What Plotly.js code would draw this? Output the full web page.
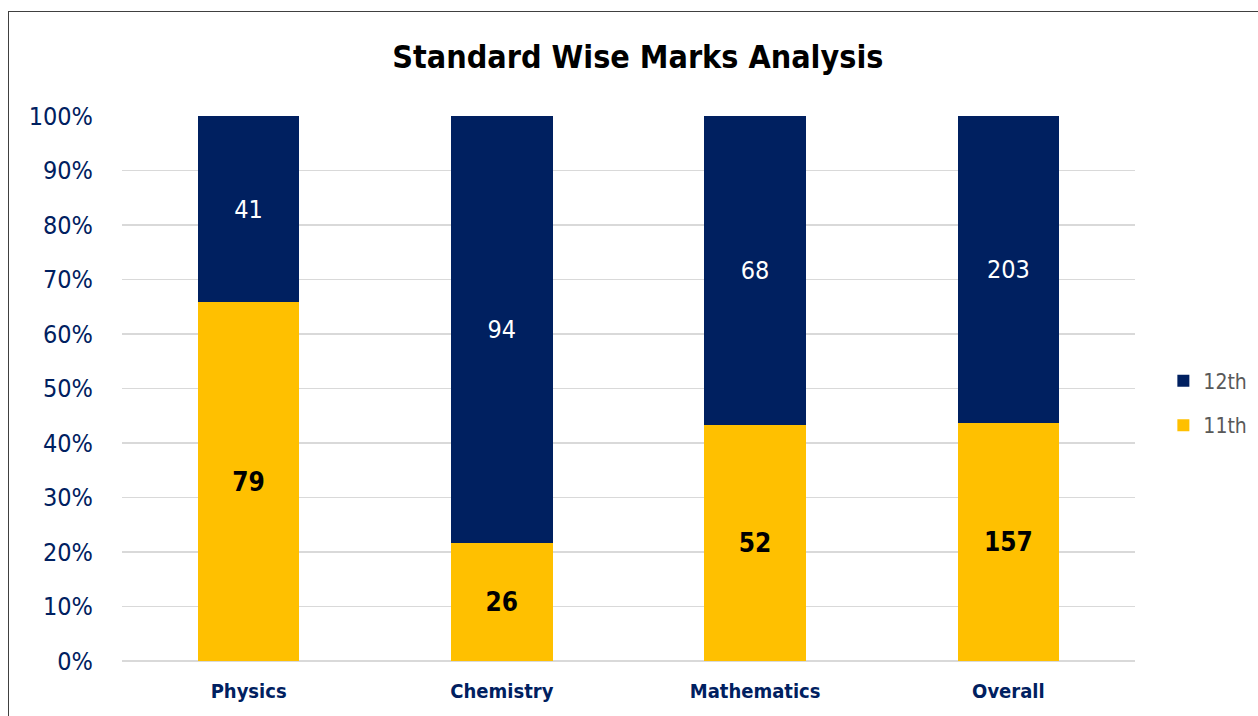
<!DOCTYPE html>
<html><head><meta charset="utf-8">
<script src="https://cdn.plot.ly/plotly-3.0.1.min.js"></script>
<style>
html,body{margin:0;padding:0;background:#fff;}
#frame{position:absolute;left:8px;top:11px;width:1300px;height:800px;border:1.5px solid #404040;box-sizing:border-box;pointer-events:none;z-index:10;}
#chart{position:absolute;left:0;top:0;width:1258px;height:716px;}
</style></head>
<body>
<div id="chart"></div>
<div id="frame"></div>
<script>
const categories = ["Physics", "Chemistry", "Mathematics", "Overall"];
const marks11 = [79, 26, 52, 157];
const marks12 = [41, 94, 68, 203];
const yTicks = [0,10,20,30,40,50,60,70,80,90,100];

const FONT = '"Liberation Sans Narrow","DejaVu Sans Condensed","Roboto",sans-serif';

const traces = [
  {
    type: 'bar', name: '11th', x: categories, y: marks11, legendgroup: 'g11', legendrank: 2,
    text: marks11.map(String), textposition: 'inside', insidetextanchor: 'middle',
    textfont: {family: FONT, size: 26, color: '#000000', weight: 'bold'},
    marker: {color: '#FFC000'}, hoverinfo: 'none'
  },
  {
    type: 'bar', name: '12th', x: categories, y: marks12, legendgroup: 'g12', legendrank: 1,
    text: marks12.map(String), textposition: 'inside', insidetextanchor: 'middle',
    textfont: {family: FONT, size: 25, color: '#FFFFFF'},
    marker: {color: '#002060'}, hoverinfo: 'none'
  }
];

const layout = {
  width: 1258, height: 716,
  margin: {l: 122, r: 123, t: 116, b: 55, autoexpand: false},
  paper_bgcolor: 'rgba(0,0,0,0)', plot_bgcolor: '#fff',
  barmode: 'stack', barnorm: 'percent', bargap: 0.6,
  title: {text: 'Standard Wise Marks Analysis', x: 0.507, xanchor: 'center', y: 0.92, yanchor: 'middle',
          font: {family: FONT, size: 32, color: '#000000', weight: 'bold'}},
  xaxis: {tickfont: {family: FONT, size: 20, color: '#002060', weight: 'bold'}, showgrid: false, zeroline: false,
          showline: false, ticks: '', ticklabelstandoff: 16},
  yaxis: {range: [0, 100], tickvals: yTicks, ticktext: yTicks.map(v => v + '%'),
          tickfont: {family: FONT, size: 25, color: '#002060'},
          gridcolor: '#D9D9D9', gridwidth: 1.5, zeroline: true, zerolinecolor: '#D9D9D9', zerolinewidth: 1.5,
          showline: false, ticks: '', ticklabelstandoff: 28},
  legend: {x: 1.028, y: 0.473, xanchor: 'left', yanchor: 'middle', traceorder: 'grouped',
           font: {family: FONT, size: 21, color: '#595959'}, itemwidth: 30, tracegroupgap: 14},
  showlegend: true
};

Plotly.newPlot('chart', traces, layout, {staticPlot: true, displayModeBar: false});
</script>
</body></html>
